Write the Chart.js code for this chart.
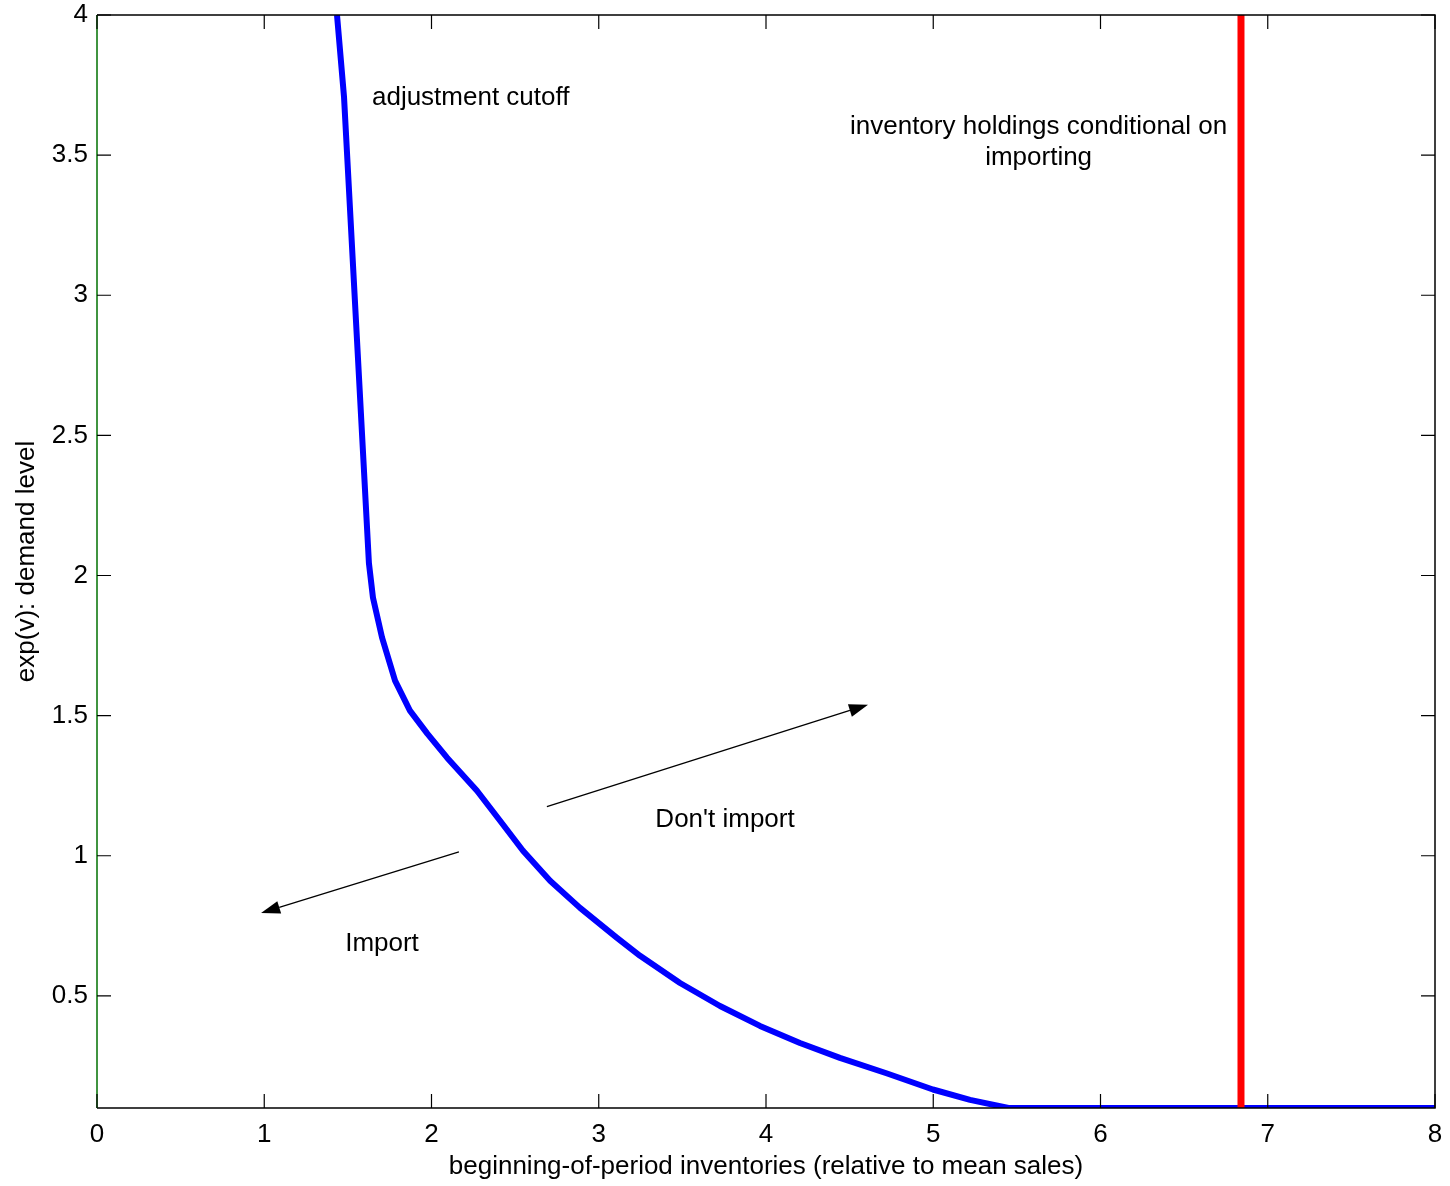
<!DOCTYPE html>
<html><head><meta charset="utf-8">
<script src="https://cdn.jsdelivr.net/npm/chart.js@4"></script>
<style>html,body{margin:0;padding:0;background:#fff}#wrap{width:1450px;height:1186px}</style>
</head><body><div id="wrap"><canvas id="c" width="1450" height="1186"></canvas></div>
<script>
const cutoffX = [1.435,1.477,1.626,1.650,1.704,1.782,1.871,1.975,2.093,2.272,2.410,2.547,2.709,2.888,3.109,3.247,3.486,3.725,3.964,4.203,4.442,4.72,4.998,5.22,5.45,8.0];
const cutoffY = [4.0,3.707,2.043,1.921,1.779,1.625,1.518,1.436,1.350,1.232,1.125,1.018,0.911,0.814,0.707,0.643,0.546,0.464,0.393,0.332,0.279,0.224,0.166,0.129,0.1,0.1];
const holdX = [6.84,6.84];
const holdY = [0.1,4.0];
const xTicks = [0,1,2,3,4,5,6,7,8];
const yTicks = [0.5,1,1.5,2,2.5,3,3.5,4];
const xMin = 0, xMax = 8, yMin = 0.1, yMax = 4;
const labels = [
  {text:'adjustment cutoff', x:1.644, y:3.704, align:'left'},
  {text:'inventory holdings conditional on', x:5.63, y:3.60, align:'center'},
  {text:'importing', x:5.63, y:3.489, align:'center'},
  {text:"Don't import", x:3.755, y:1.129, align:'center'},
  {text:'Import', x:1.704, y:0.686, align:'center'}
];
const arrows = [
  {x0:2.690, y0:1.175, x1:4.610, y1:1.539},
  {x0:2.164, y0:1.014, x1:0.981, y1:0.796}
];
const FONT = '"Liberation Sans", Arial, Helvetica, sans-serif';
const FS = 26;

const decor = {
  id:'decor',
  afterDatasetsDraw(chart){
    const ctx = chart.ctx, xs = chart.scales.x, ys = chart.scales.y, a = chart.chartArea;
    ctx.save();
    ctx.fillStyle = '#000';
    ctx.font = FS + 'px ' + FONT;
    ctx.textBaseline = 'middle';
    labels.forEach(l => { ctx.textAlign = l.align; ctx.fillText(l.text, xs.getPixelForValue(l.x), ys.getPixelForValue(l.y)); });
    arrows.forEach(ar => {
      const x0 = xs.getPixelForValue(ar.x0), y0 = ys.getPixelForValue(ar.y0);
      const x1 = xs.getPixelForValue(ar.x1), y1 = ys.getPixelForValue(ar.y1);
      const ang = Math.atan2(y1-y0, x1-x0), L = 19, W = 6.5;
      const bx = x1 - L*Math.cos(ang), by = y1 - L*Math.sin(ang);
      ctx.strokeStyle = '#000'; ctx.lineWidth = 1.3;
      ctx.beginPath(); ctx.moveTo(x0,y0); ctx.lineTo(bx,by); ctx.stroke();
      ctx.beginPath(); ctx.moveTo(x1,y1);
      ctx.lineTo(bx + W*Math.sin(ang), by - W*Math.cos(ang));
      ctx.lineTo(bx - W*Math.sin(ang), by + W*Math.cos(ang));
      ctx.closePath(); ctx.fill();
    });
    ctx.lineWidth = 1.5;
    ctx.strokeStyle = '#000';
    ctx.beginPath();
    ctx.moveTo(a.left, a.top); ctx.lineTo(a.right, a.top); ctx.lineTo(a.right, a.bottom); ctx.lineTo(a.left, a.bottom);
    ctx.stroke();
    ctx.strokeStyle = '#007000';
    ctx.beginPath(); ctx.moveTo(a.left, a.top); ctx.lineTo(a.left, a.bottom); ctx.stroke();
    const T = 14;
    ctx.strokeStyle = '#000'; ctx.lineWidth = 1.2;
    ctx.beginPath();
    xTicks.forEach(v => { const p = xs.getPixelForValue(v);
      ctx.moveTo(p, a.bottom); ctx.lineTo(p, a.bottom - T);
      ctx.moveTo(p, a.top); ctx.lineTo(p, a.top + T); });
    yTicks.forEach(v => { const p = ys.getPixelForValue(v);
      ctx.moveTo(a.left, p); ctx.lineTo(a.left + T, p);
      ctx.moveTo(a.right, p); ctx.lineTo(a.right - T, p); });
    ctx.stroke();
    ctx.restore();
  }
};

new Chart(document.getElementById('c'), {
  type:'scatter',
  data:{ datasets:[
    { data: holdX.map((x,i)=>({x, y:holdY[i]})), showLine:true, borderColor:'#ff0000', borderWidth:7, pointRadius:0, tension:0 },
    { data: cutoffX.map((x,i)=>({x, y:cutoffY[i]})), showLine:true, borderColor:'#0000ff', borderWidth:6, pointRadius:0, tension:0, borderJoinStyle:'round' }
  ]},
  options:{
    responsive:false, animation:false, devicePixelRatio:1,
    layout:{ padding:{ top:15, right:15, left:0, bottom:0 } },
    plugins:{ legend:{display:false}, tooltip:{enabled:false} },
    scales:{
      x:{ type:'linear', min:xMin, max:xMax,
        afterBuildTicks(s){ s.ticks = xTicks.map(v=>({value:v})); },
        afterFit(s){ s.height = 78; s.paddingLeft = 0; s.paddingRight = 0; },
        grid:{ display:false, drawTicks:false }, border:{ display:false },
        ticks:{ color:'#000', font:{ family:FONT, size:FS }, padding:11, maxRotation:0, callback:v=>String(v) },
        title:{ display:true, text:'beginning-of-period inventories (relative to mean sales)', color:'#000', font:{ family:FONT, size:FS }, padding:{top:0,bottom:4} }
      },
      y:{ type:'linear', min:yMin, max:yMax,
        afterBuildTicks(s){ s.ticks = yTicks.map(v=>({value:v})); },
        afterFit(s){ s.width = 97; s.paddingTop = 0; s.paddingBottom = 0; },
        grid:{ display:false, drawTicks:false }, border:{ display:false },
        ticks:{ color:'#000', font:{ family:FONT, size:FS }, padding:9, callback:v=>String(v) },
        title:{ display:true, text:'exp(v): demand level', color:'#000', font:{ family:FONT, size:FS }, padding:{top:11,bottom:0} }
      }
    }
  },
  plugins:[decor]
});
</script></body></html>
